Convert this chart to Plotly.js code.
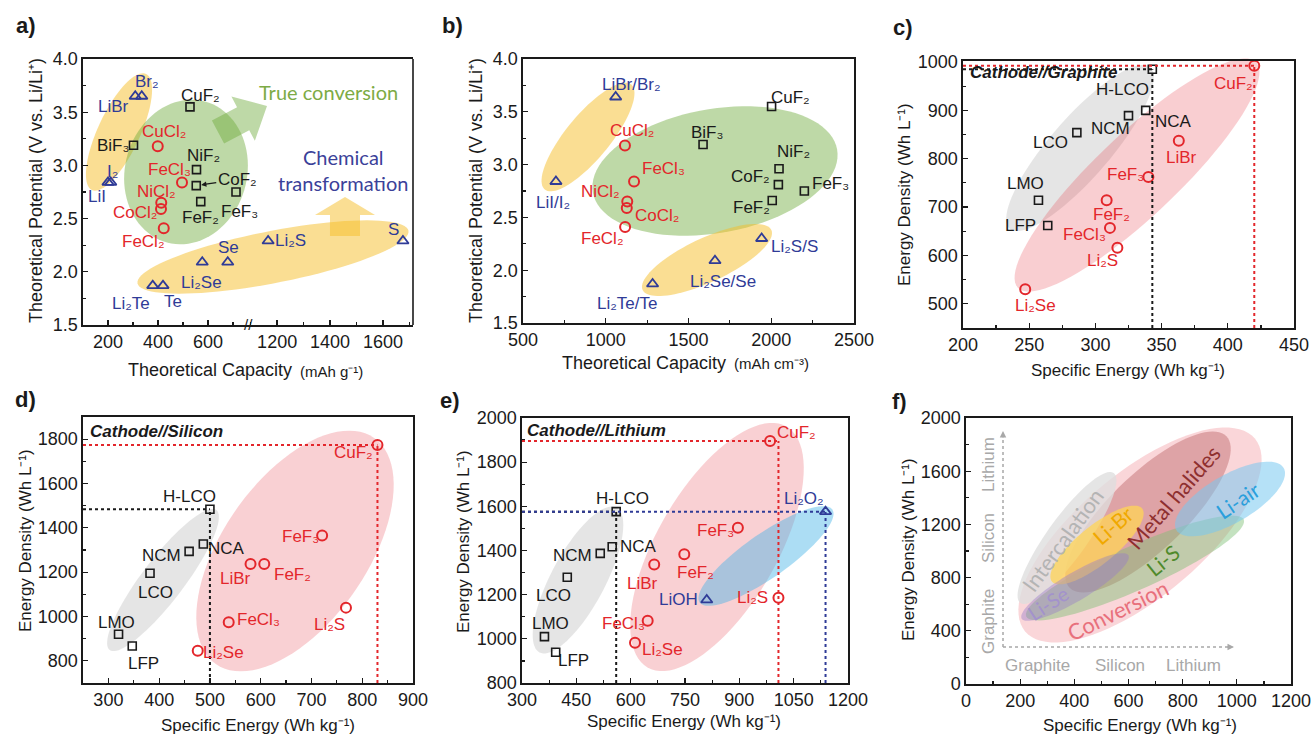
<!DOCTYPE html>
<html><head><meta charset="utf-8">
<script src="https://cdn.plot.ly/plotly-3.0.1.min.js"></script>
<style>html,body{margin:0;padding:0;background:#fff}#chart{width:1313px;height:739px}</style>
</head><body><div id="chart"></div>
<script>
// ================= DATA =================
// (a) gravimetric capacity (mAh g-1) vs potential (V)
const aFluorideNames = ['CuF2','BiF3','NiF2','CoF2','FeF2','FeF3'];
const aFluorideCap   = [528, 302, 554, 553, 571, 712];
const aFluorideV     = [3.55, 3.19, 2.96, 2.81, 2.66, 2.75];
const aChlorideNames = ['CuCl2','FeCl3','NiCl2','CoCl2','FeCl2'];
const aChlorideCap   = [399, 496, 413, 412, 423];
const aChlorideV     = [3.18, 2.84, 2.65, 2.59, 2.41];
const aChemNames = ['LiBr','Br2','LiI','I2','Li2Te','Te','Li2Se','Se','Li2S','S'];
const aChemCap   = [309, 335, 200, 211, 379, 420, 577, 679, 1166, 1675];
const aChemV     = [3.65, 3.65, 2.84, 2.84, 1.87, 1.87, 2.09, 2.09, 2.29, 2.29];

// (b) volumetric capacity (mAh cm-3) vs potential (V)
const bFluorideNames = ['CuF2','BiF3','NiF2','CoF2','FeF2','FeF3'];
const bFluorideCap   = [2002, 1588, 2047, 2043, 2006, 2200];
const bFluorideV     = [3.55, 3.19, 2.96, 2.81, 2.66, 2.75];
const bChlorideNames = ['CuCl2','FeCl3','NiCl2','CoCl2','FeCl2'];
const bChlorideCap   = [1116, 1171, 1130, 1127, 1117];
const bChlorideV     = [3.18, 2.84, 2.65, 2.59, 2.41];
const bChemNames = ['LiBr/Br2','LiI/I2','Li2Te/Te','Li2Se/Se','Li2S/S'];
const bChemCap   = [1060, 699, 1283, 1660, 1942];
const bChemV     = [3.64, 2.84, 1.87, 2.09, 2.30];

// (c) Cathode//Graphite : specific energy (Wh kg-1) vs energy density (Wh L-1)
const interNames = ['H-LCO','NCA','NCM','LCO','LMO','LFP'];
const cInterSE = [343, 338, 325, 286, 257, 264];
const cInterED = [985, 900, 889, 854, 714, 662];
const cConvNames = ['CuF2','LiBr','FeF3','FeF2','FeCl3','Li2S','Li2Se'];
const cConvSE = [420, 363, 340, 308.5, 311, 316.6, 247];
const cConvED = [992, 837, 762, 714, 657, 616, 530];

// (d) Cathode//Silicon
const dInterSE = [500, 487, 459, 382, 320, 347];
const dInterED = [1484, 1327, 1294, 1195, 920, 867];
const dConvNames = ['CuF2','FeF3','LiBr','FeF2','FeCl3','Li2S','Li2Se'];
const dConvSE = [830, 721, 580, 607, 537, 768, 476];
const dConvED = [1774, 1365, 1237, 1237, 974, 1040, 845];

// (e) Cathode//Lithium
const eInterSE = [560, 549, 516, 425, 362, 393];
const eInterED = [1576, 1417, 1387, 1279, 1010, 939];
const eConvNames = ['CuF2','FeF3','FeF2','LiBr','Li2S','FeCl3','Li2Se'];
const eConvSE = [985, 896, 748, 665, 1008, 647, 612];
const eConvED = [1896, 1503, 1383, 1337, 1186, 1082, 982];
const eAirNames = ['Li2O2','LiOH'];
const eAirSE = [1138, 810];
const eAirED = [1576, 1176];

// axis text
const capTitle = 'Theoretical Capacity';
const capUnitG = '(mAh g\u207B\u00B9)';
const capUnitV = '(mAh cm\u207B\u00B3)';
const potTitle = 'Theoretical Potential (V vs. Li/Li\u207A)';
const seTitle = 'Specific Energy (Wh kg\u207B\u00B9)';
const edTitle = 'Energy Density (Wh L\u207B\u00B9)';

// ================= LABEL OFFSETS (px: right, up) =================
const aFluShift = [[10,11],[-21,0],[7,14],[41,6,'arrow'],[0,-16],[3,-19]];
const aChlShift = [[6,15],[-13,13],[-5,11],[-26,-3],[-20,-13]];
const aChemShift = [[-22,-10],[5,15],[-11,-14],[2,11],[-22,-18],[10,-16],[-1,-20],[1,15],[22,0],[-9,11]];
const bFluShift = [[19,9],[4,12],[14,17],[-28,8],[-21,-7],[26,8]];
const bChlShift = [[7,15],[29,13],[-27,10],[30,-8],[-23,-12]];
const bChemShift = [[16,13],[-3,-21],[-26,-20],[8,-21],[33,-8]];
const cInterShift = [[-30,-20],[28,-11],[-18,-13],[-26,-10],[-13,17],[-27,0]];
const cConvShift = [[-21,-18],[3,-17],[-23,3],[5,-14],[-25,-7],[-15,-13],[10,-16]];
const dInterShift = [[-20,13],[23,-4],[-28,-4],[5,-19],[-2,12],[11,-18]];
const dConvShift = [[-24,-8],[-22,-1],[-15,-15],[28,-11],[30,3],[-16,-17],[26,-2]];
const eInterShift = [[6,13],[26,0],[-28,-2],[-14,-18],[6,13],[18,-8]];
const eConvShift = [[26,8],[-22,-3],[11,-18],[-12,-19],[-26,0],[-24,-3],[27,-7]];
const eAirShift = [[-22,13],[-28,0]];

// ================= HELPERS =================
const W = 1313, H = 739;
const PX = p => p / W, PY = p => 1 - p / H;
const FONT = 'Liberation Sans, Arial, sans-serif';
const HFONT = 'Lato, Open Sans, sans-serif';
const INK = '#1a1a1a', RED = '#e3262b', BLUE = '#2f3b97';
const traces = [], shapes = [], annotations = [];
const SUBS = '\u2080\u2081\u2082\u2083\u2084\u2085\u2086\u2087\u2088\u2089';
const sub = n => n.replace(/\d/g, d => SUBS[+d]);

function minor(d) { return {ticks:'inside', ticklen:3, tickwidth:1.2, tickcolor:INK, dtick:d, tick0:0, showgrid:false}; }
function axis(extra) {
  return Object.assign({showline:true, linecolor:INK, linewidth:1.6, mirror:true, ticks:'inside', ticklen:5,
    tickwidth:1.3, tickcolor:INK, showgrid:false, zeroline:false, tick0:0, fixedrange:true,
    tickfont:{family:FONT, size:18, color:INK}}, extra);
}
function pts(xs, ys, xa, ya, kind) {
  const st = {sq:{symbol:'square-open', size:8, color:INK, w:1.6},
              ci:{symbol:'circle-open', size:10, color:RED, w:2},
              tr:{symbol:'triangle-up-open', size:10, color:BLUE, w:1.8}}[kind];
  traces.push({type:'scatter', mode:'markers', x:xs, y:ys, xaxis:xa, yaxis:ya, cliponaxis:false,
    hoverinfo:'skip', showlegend:false,
    marker:{symbol:st.symbol, size:st.size, color:st.color, line:{color:st.color, width:st.w}}});
}
function labels(names, xs, ys, xref, yref, shifts, color) {
  names.forEach((n, i) => {
    const s = shifts[i];
    const base = {xref, yref, x:xs[i], y:ys[i], text:sub(n), font:{family:FONT, size:17, color}};
    if (s[2] === 'arrow') annotations.push(Object.assign(base, {showarrow:true, ax:s[0], ay:-s[1],
      arrowhead:2, arrowsize:0.8, arrowwidth:1.3, arrowcolor:color, standoff:5}));
    else annotations.push(Object.assign(base, {showarrow:false, xanchor:'center', yanchor:'middle', xshift:s[0], yshift:s[1]}));
  });
}
function guides(xs, ys, xref, yref, x0, y0, color) {
  const mx = Math.max(...xs), my = Math.max(...ys);
  const line = {color, width:2, dash:'dot'};
  shapes.push({type:'line', xref, yref, x0:x0, y0:my, x1:mx, y1:my, line});
  shapes.push({type:'line', xref, yref, x0:mx, y0:y0, x1:mx, y1:my, line});
}
// decorative regions drawn in figure pixels (center, semi-axes, tilt in degrees)
function ellipse(cx, cy, a, b, deg, fill) {
  const t = deg * Math.PI / 180, n = 90; let d = '';
  for (let i = 0; i < n; i++) {
    const u = 2 * Math.PI * i / n;
    const px = cx + a * Math.cos(u) * Math.cos(t) - b * Math.sin(u) * Math.sin(t);
    const py = cy - (a * Math.cos(u) * Math.sin(t) + b * Math.sin(u) * Math.cos(t));
    d += (i ? 'L' : 'M') + PX(px).toFixed(5) + ',' + PY(py).toFixed(5);
  }
  shapes.push({type:'path', xref:'paper', yref:'paper', path:d + 'Z', fillcolor:fill, line:{width:0}, layer:'below'});
}
function bigArrow(tail, tip, bh, hh, hl, fill) {
  const dx = tip[0] - tail[0], dy = tip[1] - tail[1], L = Math.hypot(dx, dy);
  const ux = dx / L, uy = dy / L, nx = -uy, ny = ux;
  const bx = tip[0] - ux * hl, by = tip[1] - uy * hl;
  const p = [[tail[0]+nx*bh, tail[1]+ny*bh],[bx+nx*bh, by+ny*bh],[bx+nx*hh, by+ny*hh],tip,
             [bx-nx*hh, by-ny*hh],[bx-nx*bh, by-ny*bh],[tail[0]-nx*bh, tail[1]-ny*bh]];
  const d = p.map((q, i) => (i ? 'L' : 'M') + PX(q[0]).toFixed(5) + ',' + PY(q[1]).toFixed(5)).join('') + 'Z';
  shapes.push({type:'path', xref:'paper', yref:'paper', path:d, fillcolor:fill, line:{width:0}, layer:'below'});
}
function ptext(px, py, text, opt) {
  annotations.push(Object.assign({xref:'paper', yref:'paper', x:PX(px), y:PY(py), text, showarrow:false,
    xanchor:'center', yanchor:'middle', font:{family:FONT, size:18, color:INK}}, opt || {}));
}
const letterFont = {family:FONT, size:22, color:INK, weight:'bold'};
const tagFont = {family:FONT, size:17, color:INK, weight:'bold', style:'italic'};
const titleFont = {family:FONT, size:17, color:INK};

// ================= PANEL (a) : broken x axis =================
const aLeftRange = [100, 760], aRightRange = [1090, 1713];
function splitA(names, xs, ys, shifts, kind, color) {
  const L = {n:[], x:[], y:[], s:[]}, R = {n:[], x:[], y:[], s:[]};
  names.forEach((n, i) => { const g = xs[i] <= aLeftRange[1] ? L : R; g.n.push(n); g.x.push(xs[i]); g.y.push(ys[i]); g.s.push(shifts[i]); });
  [[L, 'x'], [R, 'x2']].forEach(([g, xa]) => {
    if (!g.n.length) return;
    pts(g.x, g.y, xa, 'y', kind);
    labels(g.n, g.x, g.y, xa, 'y', g.s, color);
  });
}
ellipse(119, 132, 64, 21, 65, 'rgba(245,190,40,0.5)');
ellipse(273, 257, 138, 26, 11, 'rgba(245,190,40,0.5)');
ellipse(186, 172, 73, 61, 75, 'rgba(110,170,60,0.45)');
bigArrow([218, 132], [267, 106], 13, 25, 27, 'rgba(110,170,60,0.45)');
bigArrow([345, 236], [345, 197], 15, 30, 18, 'rgba(245,190,40,0.5)');
splitA(aFluorideNames, aFluorideCap, aFluorideV, aFluShift, 'sq', INK);
splitA(aChlorideNames, aChlorideCap, aChlorideV, aChlShift, 'ci', RED);
splitA(aChemNames, aChemCap, aChemV, aChemShift, 'tr', BLUE);
shapes.push({type:'line', xref:'x2 domain', yref:'y domain', x0:1, x1:1, y0:0, y1:1, line:{color:INK, width:1.6}});
ptext(248, 325, '//', {font:{family:FONT, size:15, color:INK}});
ptext(328, 92, 'True conversion', {font:{family:HFONT, size:20, color:'#7dab45'}});
ptext(343, 157, 'Chemical', {font:{family:HFONT, size:20, color:'#3b4199'}});
ptext(343, 183, 'transformation', {font:{family:HFONT, size:20, color:'#3b4199'}});
ptext(294, 370, capTitle, {xanchor:'right'});
ptext(298, 371, capUnitG, {xanchor:'left', font:{family:FONT, size:15, color:INK}});
ptext(36, 191, potTitle, {textangle:-90});
ptext(26, 25, 'a)', {font:letterFont});

// ================= PANEL (b) =================
ellipse(588, 137, 68, 22, 50.5, 'rgba(245,190,40,0.5)');
ellipse(715, 171, 124, 62, 10, 'rgba(110,170,60,0.45)');
ellipse(707, 260, 71, 22, 25, 'rgba(245,190,40,0.5)');
pts(bFluorideCap, bFluorideV, 'x3', 'y2', 'sq'); labels(bFluorideNames, bFluorideCap, bFluorideV, 'x3', 'y2', bFluShift, INK);
pts(bChlorideCap, bChlorideV, 'x3', 'y2', 'ci'); labels(bChlorideNames, bChlorideCap, bChlorideV, 'x3', 'y2', bChlShift, RED);
pts(bChemCap, bChemV, 'x3', 'y2', 'tr'); labels(bChemNames, bChemCap, bChemV, 'x3', 'y2', bChemShift, BLUE);
ptext(728, 363, capTitle, {xanchor:'right'});
ptext(732, 364, capUnitV, {xanchor:'left', font:{family:FONT, size:15, color:INK}});
ptext(476, 191, potTitle, {textangle:-90});
ptext(452, 25, 'b)', {font:letterFont});

// ================= PANEL (c) =================
const cX = [200, 450], cY = [450, 1002];
ellipse(1080, 148, 107, 30, 49, 'rgba(150,150,150,0.25)');
ellipse(1137, 175, 164, 41, 43.4, 'rgba(230,60,70,0.25)');
pts(cInterSE, cInterED, 'x4', 'y3', 'sq'); labels(interNames, cInterSE, cInterED, 'x4', 'y3', cInterShift, INK);
pts(cConvSE, cConvED, 'x4', 'y3', 'ci'); labels(cConvNames, cConvSE, cConvED, 'x4', 'y3', cConvShift, RED);
guides(cInterSE, cInterED, 'x4', 'y3', cX[0], cY[0], INK);
guides(cConvSE, cConvED, 'x4', 'y3', cX[0], cY[0], RED);
annotations.push({xref:'x4 domain', yref:'y3 domain', x:0.015, y:0.958, xanchor:'left', yanchor:'middle', showarrow:false,
  text:'Cathode//Graphite', font:tagFont});
ptext(1128, 370, seTitle, {font:titleFont});
ptext(905, 195, edTitle, {textangle:-90, font:titleFont});
ptext(903, 28, 'c)', {font:letterFont});

// ================= PANEL (d) =================
const dX = [250, 900], dY = [700, 1900];
ellipse(163, 580, 88, 21, 52.7, 'rgba(150,150,150,0.25)');
ellipse(295, 551, 138, 72, 55, 'rgba(230,60,70,0.24)');
pts(dInterSE, dInterED, 'x5', 'y4', 'sq'); labels(interNames, dInterSE, dInterED, 'x5', 'y4', dInterShift, INK);
pts(dConvSE, dConvED, 'x5', 'y4', 'ci'); labels(dConvNames, dConvSE, dConvED, 'x5', 'y4', dConvShift, RED);
guides(dInterSE, dInterED, 'x5', 'y4', dX[0], dY[0], INK);
guides(dConvSE, dConvED, 'x5', 'y4', dX[0], dY[0], RED);
annotations.push({xref:'x5 domain', yref:'y4 domain', x:0.015, y:0.944, xanchor:'left', yanchor:'middle', showarrow:false,
  text:'Cathode//Silicon', font:tagFont});
ptext(258, 725, seTitle, {font:titleFont});
ptext(25, 541, edTitle, {textangle:-90, font:titleFont});
ptext(25, 399, 'd)', {font:letterFont});

// ================= PANEL (e) =================
const eX = [300, 1200], eY = [800, 2000];
ellipse(578, 580, 82, 27, 62, 'rgba(150,150,150,0.25)');
ellipse(717, 547, 139, 60, 60, 'rgba(230,60,70,0.24)');
ellipse(766, 556, 81, 22, 35, 'rgba(70,180,230,0.45)');
pts(eInterSE, eInterED, 'x6', 'y5', 'sq'); labels(interNames, eInterSE, eInterED, 'x6', 'y5', eInterShift, INK);
pts(eConvSE, eConvED, 'x6', 'y5', 'ci'); labels(eConvNames, eConvSE, eConvED, 'x6', 'y5', eConvShift, RED);
pts(eAirSE, eAirED, 'x6', 'y5', 'tr'); labels(eAirNames, eAirSE, eAirED, 'x6', 'y5', eAirShift, BLUE);
guides(eInterSE, eInterED, 'x6', 'y5', eX[0], eY[0], INK);
guides(eAirSE, eAirED, 'x6', 'y5', eX[0], eY[0], BLUE);
guides(eConvSE, eConvED, 'x6', 'y5', eX[0], eY[0], RED);
annotations.push({xref:'x6 domain', yref:'y5 domain', x:0.01, y:0.951, xanchor:'left', yanchor:'middle', showarrow:false,
  text:'Cathode//Lithium', font:tagFont});
ptext(684, 721, seTitle, {font:titleFont});
ptext(463, 542, edTitle, {textangle:-90, font:titleFont});
ptext(450, 400, 'e)', {font:letterFont});

// ================= PANEL (f) : conceptual map =================
ellipse(1140, 535, 150, 62, 40, 'rgba(238,120,130,0.3)');
ellipse(1148, 512, 109, 38, 44, 'rgba(165,55,60,0.32)');
ellipse(1067, 538, 80, 20, 54.3, 'rgba(222,222,222,0.78)');
ellipse(1135, 568, 119, 22, 24, 'rgba(125,190,115,0.45)');
ellipse(1097, 545, 58, 19, 39, 'rgba(255,212,85,0.75)');
ellipse(1075, 587, 62, 14, 30.7, 'rgba(150,125,200,0.42)');
ellipse(1230, 499, 62, 24, 30, 'rgba(120,200,240,0.55)');
const GREY = '#a8a8a8';
shapes.push({type:'line', xref:'paper', yref:'paper', x0:PX(1003), y0:PY(647), x1:PX(1003), y1:PY(436), line:{color:GREY, width:1.5, dash:'dot'}});
shapes.push({type:'line', xref:'paper', yref:'paper', x0:PX(1003), y0:PY(647), x1:PX(1229), y1:PY(647), line:{color:GREY, width:1.5, dash:'dot'}});
annotations.push({xref:'paper', yref:'paper', x:PX(1003), y:PY(431), ax:0, ay:8, text:'', showarrow:true, arrowhead:2, arrowsize:1, arrowwidth:1.3, arrowcolor:GREY});
annotations.push({xref:'paper', yref:'paper', x:PX(1234), y:PY(647), ax:-8, ay:0, text:'', showarrow:true, arrowhead:2, arrowsize:1, arrowwidth:1.3, arrowcolor:GREY});
ptext(1062, 540, 'Intercalation', {textangle:-54, font:{family:HFONT, size:22, color:'#b4b4b4'}});
ptext(1112, 525, 'Li-Br', {textangle:-41, font:{family:HFONT, size:21, color:'#f0a800'}});
ptext(1173, 497, 'Metal halides', {textangle:-49, font:{family:HFONT, size:22, color:'#8e2f2f'}});
ptext(1162, 560, 'Li-S', {textangle:-39, font:{family:HFONT, size:21, color:'#4f8a2b'}});
ptext(1237, 500, 'Li-air', {textangle:-34, font:{family:HFONT, size:21, color:'#2a9fdc'}});
ptext(1048, 603, 'Li-Se', {textangle:-33, font:{family:HFONT, size:20, color:'#a392cc'}});
ptext(1117, 610, 'Conversion', {textangle:-26, font:{family:HFONT, size:22, color:'#e8707c'}});
ptext(1037, 665, 'Graphite', {font:{family:FONT, size:17, color:GREY}});
ptext(1120, 665, 'Silicon', {font:{family:FONT, size:17, color:GREY}});
ptext(1193, 665, 'Lithium', {font:{family:FONT, size:17, color:GREY}});
ptext(988, 622, 'Graphite', {textangle:-90, font:{family:FONT, size:17, color:GREY}});
ptext(988, 538, 'Silicon', {textangle:-90, font:{family:FONT, size:17, color:GREY}});
ptext(988, 465, 'Lithium', {textangle:-90, font:{family:FONT, size:17, color:GREY}});
ptext(1140, 725, seTitle, {font:titleFont});
ptext(908, 550, edTitle, {textangle:-90, font:titleFont});
ptext(900, 401, 'f)', {font:letterFont});
// invisible anchor trace so panel (f) axes are drawn
traces.push({type:'scatter', mode:'markers', x:[], y:[], xaxis:'x7', yaxis:'y6', showlegend:false, hoverinfo:'skip'});

// ================= LAYOUT =================
const layout = {
  width:W, height:H, margin:{l:0, r:0, t:0, b:0}, paper_bgcolor:'#fff', plot_bgcolor:'rgba(0,0,0,0)',
  showlegend:false, font:{family:FONT, color:INK, size:17},
  xaxis:  axis({domain:[PX(83), PX(248)], range:aLeftRange, dtick:200, anchor:'y', minor:minor(100)}),
  xaxis2: axis({domain:[PX(248), PX(413)], range:aRightRange, dtick:200, anchor:'y', minor:minor(100)}),
  yaxis:  axis({domain:[PY(325), PY(59)], range:[1.5, 4], dtick:0.5, tickformat:'.1f', anchor:'x', mirror:false, minor:minor(0.25)}),
  xaxis3: axis({domain:[PX(523), PX(854)], range:[500, 2500], dtick:500, anchor:'y2', minor:minor(250)}),
  yaxis2: axis({domain:[PY(323), PY(59)], range:[1.5, 4], dtick:0.5, tickformat:'.1f', anchor:'x3', minor:minor(0.25)}),
  xaxis4: axis({domain:[PX(963), PX(1294)], range:cX, dtick:50, anchor:'y3', minor:minor(25)}),
  yaxis3: axis({domain:[PY(328), PY(61)], range:cY, dtick:100, anchor:'x4', minor:minor(50)}),
  xaxis5: axis({domain:[PX(83), PX(413)], range:dX, dtick:100, anchor:'y4', minor:minor(50)}),
  yaxis4: axis({domain:[PY(683), PY(417)], range:dY, dtick:200, anchor:'x5', minor:minor(100)}),
  xaxis6: axis({domain:[PX(522), PX(848)], range:eX, dtick:150, anchor:'y5', minor:minor(75)}),
  yaxis5: axis({domain:[PY(683), PY(418)], range:eY, dtick:200, anchor:'x6', minor:minor(100)}),
  xaxis7: axis({domain:[PX(966), PX(1291)], range:[0, 1200], dtick:200, anchor:'y6', minor:minor(100)}),
  yaxis6: axis({domain:[PY(684), PY(418)], range:[0, 2000], dtick:400, anchor:'x7', minor:minor(200)}),
  shapes, annotations
};
Plotly.newPlot('chart', traces, layout, {staticPlot:true, displayModeBar:false});
</script>
</body></html>
